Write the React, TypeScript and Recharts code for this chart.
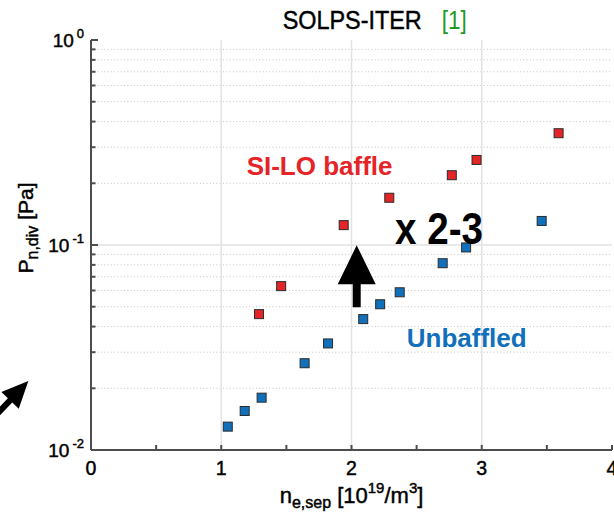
import { ScatterChart, Scatter, XAxis, YAxis, ReferenceLine, ReferenceDot } from 'recharts'

// n_e,sep [10^19/m^3] and P_n,div [Pa]
const baffledNe = [1.29, 1.46, 1.94, 2.29, 2.77, 2.96, 3.59]
const baffledP = [0.046, 0.063, 0.125, 0.17, 0.219, 0.26, 0.351]
const unbaffledNe = [1.05, 1.18, 1.31, 1.64, 1.82, 2.09, 2.22, 2.37, 2.7, 2.88, 3.46]
const unbaffledP = [0.013, 0.0155, 0.018, 0.0265, 0.0331, 0.0435, 0.0514, 0.0588, 0.0815, 0.0973, 0.131]

const xTicks = [0, 0.5, 1, 1.5, 2, 2.5, 3, 3.5, 4]
const yTicks = [
  0.01, 0.02, 0.03, 0.04, 0.05, 0.06, 0.07, 0.08, 0.09,
  0.1, 0.2, 0.3, 0.4, 0.5, 0.6, 0.7, 0.8, 0.9, 1,
]
const xMajorGrid = [1, 2, 3]
const yMajorGrid = [0.1]
const yMinorGrid = [
  0.02, 0.03, 0.04, 0.05, 0.06, 0.07, 0.08, 0.09,
  0.2, 0.3, 0.4, 0.5, 0.6, 0.7, 0.8, 0.9,
]

const baffled = baffledNe.map((x, i) => ({ x, y: baffledP[i] }))
const unbaffled = unbaffledNe.map((x, i) => ({ x, y: unbaffledP[i] }))

const FRAME = '#4d4d4d'
const RED = '#e52428'
const BLUE = '#1170bb'
const FONT = "'Liberation Sans', Arial, sans-serif"
// slightly heavier glyphs, like the original figure export
const heavy = { stroke: '#000', strokeWidth: 0.45 }

const isDecade = (v: number) => Math.abs(Math.log10(v) - Math.round(Math.log10(v))) < 1e-9

const BottomTick = ({ x, y, payload }: any) => (
  <g>
    <line x1={x} x2={x} y1={y} y2={y - 5} stroke={FRAME} strokeWidth={2} />
    {Number.isInteger(payload.value) && (
      <text x={x} y={y + 25} textAnchor="middle" fontSize={19.5} fill="#000" {...heavy}>
        {payload.value}
      </text>
    )}
  </g>
)

const TopTick = ({ x, y }: any) => (
  <line x1={x} x2={x} y1={y} y2={y + 5} stroke={FRAME} strokeWidth={2} />
)

const LeftTick = ({ x, y, payload }: any) => {
  const major = isDecade(payload.value)
  return (
    <g>
      <line x1={x} x2={x + (major ? 7 : 4.5)} y1={y} y2={y} stroke={FRAME} strokeWidth={2} />
      {major && (
        <text x={84} y={y + 7} textAnchor="end" fontSize={19} fill="#000" {...heavy}>
          10
          <tspan dx={3} dy={-9} fontSize={13}>{Math.round(Math.log10(payload.value))}</tspan>
        </text>
      )}
    </g>
  )
}

const RightTick = ({ x, y, payload }: any) => (
  <line x1={x} x2={x - (isDecade(payload.value) ? 7 : 4.5)} y1={y} y2={y} stroke={FRAME} strokeWidth={2} />
)

const squareMarker = (fill: string) => (props: any) => (
  <rect
    x={props.cx - 4.5}
    y={props.cy - 4.5}
    width={9}
    height={9}
    fill={fill}
    stroke="#2b2b2b"
    strokeWidth={1}
  />
)

const UpArrow = ({ cx, cy }: any) => (
  <polygon
    points={`${cx},${cy} ${cx + 19},${cy + 39} ${cx + 4},${cy + 39} ${cx + 4},${cy + 62} ${cx - 4},${cy + 62} ${cx - 4},${cy + 39} ${cx - 19},${cy + 39}`}
    fill="#000"
  />
)

const SideArrow = ({ cx, cy }: any) => {
  const pts = [
    [0, 0], [-9.6, 27.6], [-16.1, 21.4], [-43.6, 50.4],
    [-48, 46.2], [-20.5, 17.2], [-27, 11],
  ]
  return <polygon points={pts.map(([dx, dy]) => `${cx + dx},${cy + dy}`).join(' ')} fill="#000" />
}

const label = (text: string, color: string, size: number, stretch?: number) => ({ cx, cy }: any) => (
  <text
    x={cx}
    y={cy}
    fill={color}
    fontSize={size}
    fontWeight="bold"
    fontFamily={FONT}
    textLength={stretch}
    lengthAdjust={stretch ? 'spacingAndGlyphs' : undefined}
  >
    {text}
  </text>
)

export default function App() {
  return (
    <div style={{ position: 'absolute', left: 0, top: 0, width: 614, height: 512, background: '#fff', fontFamily: FONT }}>
      <ScatterChart width={614} height={512} margin={{ top: 40, right: 2, bottom: 0, left: 0 }}>
        {/* grid */}
        {yMinorGrid.map((v) => (
          <ReferenceLine key={`ym${v}`} y={v} stroke="#c4c4c4" strokeDasharray="1 2.3" strokeWidth={1} />
        ))}
        {xMajorGrid.map((v) => (
          <ReferenceLine key={`xg${v}`} x={v} stroke="#e2e2e2" strokeWidth={1.5} />
        ))}
        {yMajorGrid.map((v) => (
          <ReferenceLine key={`yg${v}`} y={v} stroke="#e2e2e2" strokeWidth={1.5} />
        ))}

        <XAxis
          dataKey="x"
          type="number"
          domain={[0, 4]}
          ticks={xTicks}
          interval={0}
          height={62}
          allowDataOverflow
          axisLine={{ stroke: FRAME, strokeWidth: 2 }}
          tickLine={false}
          tickSize={0}
          tickMargin={0}
          tick={<BottomTick />}
        />
        <XAxis
          xAxisId="top"
          orientation="top"
          type="number"
          domain={[0, 4]}
          ticks={xTicks}
          interval={0}
          height={0}
          allowDataOverflow
          axisLine={{ stroke: FRAME, strokeWidth: 2 }}
          tickLine={false}
          tickSize={0}
          tickMargin={0}
          tick={<TopTick />}
        />
        <YAxis
          dataKey="y"
          type="number"
          scale="log"
          domain={[0.01, 1]}
          ticks={yTicks}
          interval={0}
          width={91}
          allowDataOverflow
          axisLine={{ stroke: FRAME, strokeWidth: 2 }}
          tickLine={false}
          tickSize={0}
          tickMargin={0}
          tick={<LeftTick />}
        />
        <YAxis
          yAxisId="right"
          orientation="right"
          type="number"
          scale="log"
          domain={[0.01, 1]}
          ticks={yTicks}
          interval={0}
          width={0}
          allowDataOverflow
          axisLine={{ stroke: FRAME, strokeWidth: 2 }}
          tickLine={false}
          tickSize={0}
          tickMargin={0}
          tick={<RightTick />}
        />

        <Scatter data={unbaffled} shape={squareMarker(BLUE)} isAnimationActive={false} />
        <Scatter data={baffled} shape={squareMarker(RED)} isAnimationActive={false} />

        {/* annotations */}
        <ReferenceDot x={1.195} y={0.2207} shape={label('SI-LO baffle', RED, 26)} />
        <ReferenceDot x={2.424} y={0.0317} shape={label('Unbaffled', BLUE, 26)} />
        <ReferenceDot x={2.334} y={0.1016} shape={label('x 2-3', '#000', 44, 88)} />
        <ReferenceDot x={2.04} y={0.0997} shape={<UpArrow />} />
        <ReferenceDot x={-0.481} y={0.0217} ifOverflow="visible" shape={<SideArrow />} />
      </ScatterChart>

      <svg width={614} height={512} style={{ position: 'absolute', left: 0, top: 0, pointerEvents: 'none' }} fontFamily={FONT}>
        <text x={282.7} y={29.3} fontSize={26} textLength={139} lengthAdjust="spacingAndGlyphs" fill="#000" {...heavy}>
          SOLPS-ITER
        </text>
        <text x={441.7} y={29.3} fontSize={26} textLength={25} lengthAdjust="spacingAndGlyphs" fill="#1f9a24">
          [1]
        </text>
        <text x={351.5} y={503} textAnchor="middle" fontSize={22} fill="#000" {...heavy}>
          n<tspan fontSize={16} dy={5}>e,sep</tspan>
          <tspan dy={-5}> [10</tspan>
          <tspan fontSize={15} dy={-10}>19</tspan>
          <tspan dy={10}>/m</tspan>
          <tspan fontSize={15} dy={-10}>3</tspan>
          <tspan dy={10}>]</tspan>
        </text>
        <text transform="rotate(-90)" x={-228} y={33} textAnchor="middle" fontSize={21} fill="#000" {...heavy}>
          P<tspan fontSize={16} dy={5}>n,div</tspan>
          <tspan dy={-5}> [Pa]</tspan>
        </text>
      </svg>
    </div>
  )
}
